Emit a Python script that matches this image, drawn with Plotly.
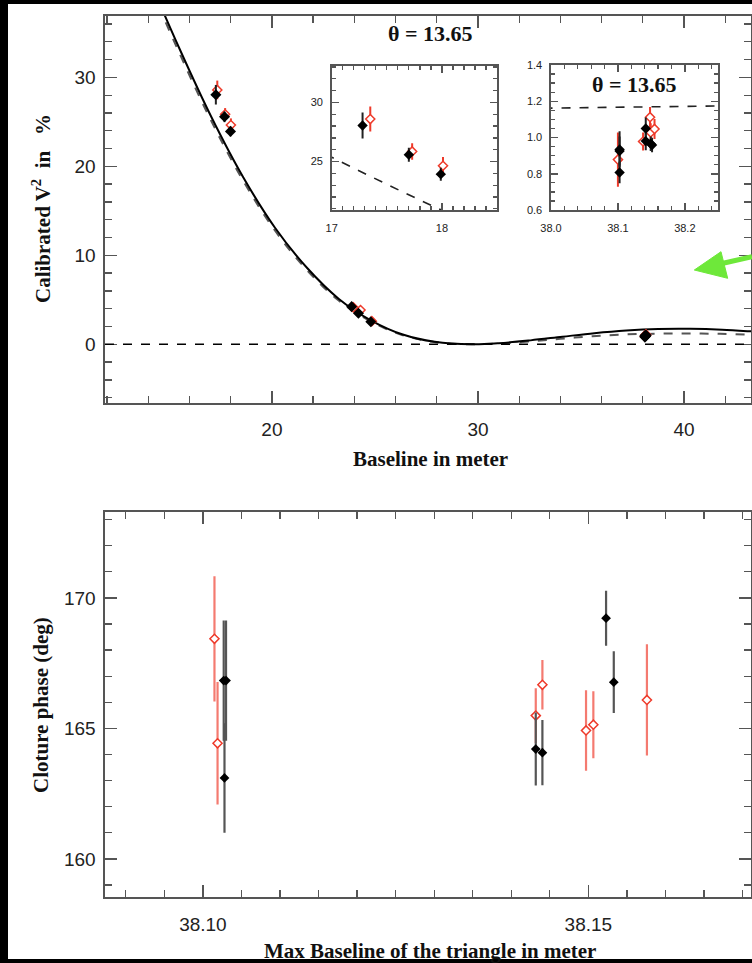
import plotly.graph_objects as go

W, H = 752, 963

# ---------------- data ----------------
# calibrated V^2 (percent) -- black filled diamonds
blk_B = [17.28, 17.70, 17.99, 23.87, 24.20, 24.80, 38.1025, 38.1025, 38.1025, 38.1416, 38.1416, 38.149, 38.151]
blk_V = [28.05, 25.57, 23.93, 4.23, 3.49, 2.54, 0.934, 0.925, 0.807, 1.05, 0.98, 0.966, 0.958]
blk_E = [1.1, 0.6, 0.55, 0.3, 0.3, 0.25, 0.10, 0.08, 0.06, 0.06, 0.05, 0.04, 0.04]
# red open diamonds
red_B = [17.35, 17.73, 18.01, 23.95, 24.30, 24.85, 38.100, 38.1376, 38.148, 38.149, 38.1547]
red_V = [28.59, 25.85, 24.64, 4.15, 3.85, 2.60, 0.878, 0.978, 1.112, 1.028, 1.047]
red_E = [1.05, 0.7, 0.75, 0.3, 0.3, 0.25, 0.15, 0.05, 0.056, 0.05, 0.055]

# model curves
sol_B = [13.9, 15.5, 17.05, 18.6, 20.15, 21.7, 23.25, 24.8, 26.35, 27.9, 29.7, 31.0, 32.55, 34.1, 35.65, 37.2, 38.75, 40.3, 41.85, 43.4, 44.0]
sol_V = [41.8, 33.3, 25.6, 18.8, 13.1, 8.6, 5.1, 2.7, 1.1, 0.28, 0.0, 0.11, 0.44, 0.85, 1.25, 1.55, 1.72, 1.74, 1.64, 1.43, 1.34]
dsh_B = [13.8, 15.4, 16.95, 18.5, 20.05, 21.6, 23.15, 24.7, 26.25, 27.8, 29.5, 30.9, 32.45, 34.0, 35.55, 37.1, 38.65, 40.2, 41.75, 43.3, 44.0]
dsh_V = [41.8, 33.3, 25.6, 18.8, 13.1, 8.6, 5.1, 2.7, 1.1, 0.28, 0.0, 0.08, 0.31, 0.62, 0.90, 1.10, 1.19, 1.22, 1.17, 1.06, 1.0]

# closure phase
cp_blk_B = [38.1027, 38.1030, 38.1028, 38.14318, 38.14404, 38.1523, 38.1533]
cp_blk_P = [166.83, 166.83, 163.10, 164.21, 164.07, 169.22, 166.77]
cp_blk_E = [2.3, 2.3, 2.1, 1.4, 1.25, 1.05, 1.18]
cp_red_B = [38.1015, 38.1019, 38.14318, 38.14404, 38.1497, 38.15065, 38.1576]
cp_red_P = [168.43, 164.43, 165.49, 166.67, 164.92, 165.14, 166.09]
cp_red_E = [2.4, 2.35, 1.05, 0.95, 1.54, 1.28, 2.13]

theta_label = "θ = 13.65"

# ---------------- helpers ----------------
def px(x):
    return x / W

def py(y):
    return 1 - y / H

SANS = "Liberation Sans"
SERIF = "Liberation Serif"
AX = "#555555"

fig = go.Figure()

RED = "#ee3a2a"
RED_L = "#f47a70"

def add_pts(B, V, E, xa, ya, filled, size, ecol, ethick):
    if filled:
        marker = dict(symbol="diamond", size=size, color="black", line=dict(width=0))
    else:
        marker = dict(symbol="diamond", size=size, color="white", line=dict(color=RED, width=1.5))
    fig.add_trace(go.Scatter(
        x=B, y=V, mode="markers", xaxis=xa, yaxis=ya, marker=marker,
        error_y=dict(type="data", array=E, visible=True, width=0, thickness=ethick, color=ecol),
        showlegend=False, cliponaxis=True, hoverinfo="skip"))

# main panel curves
fig.add_trace(go.Scatter(x=dsh_B, y=dsh_V, mode="lines", line=dict(color="#555", width=2, dash="dash", shape="spline"),
                         xaxis="x", yaxis="y", showlegend=False, hoverinfo="skip"))
fig.add_trace(go.Scatter(x=sol_B, y=sol_V, mode="lines", line=dict(color="black", width=2, shape="spline"),
                         xaxis="x", yaxis="y", showlegend=False, hoverinfo="skip"))
add_pts(red_B, red_V, red_E, "x", "y", False, 7, RED, 2)
add_pts(blk_B, blk_V, blk_E, "x", "y", True, 8.5, "#222", 2)

# inset 1
fig.add_trace(go.Scatter(x=dsh_B, y=dsh_V, mode="lines", line=dict(color="#222", width=1.6, dash="dash", shape="spline"),
                         xaxis="x2", yaxis="y2", showlegend=False, hoverinfo="skip"))
add_pts(red_B, red_V, red_E, "x2", "y2", False, 7, RED, 2)
add_pts(blk_B, blk_V, blk_E, "x2", "y2", True, 8, "#222", 2)

# inset 2
fig.add_trace(go.Scatter(x=dsh_B, y=dsh_V, mode="lines", line=dict(color="#222", width=1.6, dash="dash", shape="spline"),
                         xaxis="x3", yaxis="y3", showlegend=False, hoverinfo="skip"))
add_pts(red_B, red_V, red_E, "x3", "y3", False, 7, RED, 2)
add_pts(blk_B, blk_V, blk_E, "x3", "y3", True, 8, "#222", 2)

# bottom panel
add_pts(cp_red_B, cp_red_P, cp_red_E, "x4", "y4", False, 7, RED_L, 2.2)
add_pts(cp_blk_B, cp_blk_P, cp_blk_E, "x4", "y4", True, 7.5, "#555", 2.2)

def axis(domain, rng, dtick, minor_dtick, anchor, fsize=19, tl=12, mtl=7, fmt=None, tick0=None, standoff=8):
    d = dict(domain=domain, range=rng, dtick=dtick, anchor=anchor, automargin=False,
             showline=True, linecolor=AX, linewidth=1.6, mirror="ticks",
             ticks="inside", ticklen=tl, tickwidth=1.5, tickcolor=AX,
             minor=dict(ticks="inside", ticklen=mtl, tickwidth=1.3, tickcolor=AX, dtick=minor_dtick, showgrid=False),
             showgrid=False, zeroline=False, fixedrange=True,
             tickfont=dict(family=SANS, size=fsize, color="#222"),
             ticklabelstandoff=standoff)
    if fmt:
        d["tickformat"] = fmt
    if tick0 is not None:
        d["tick0"] = tick0
    return d

layout = dict(
    template="none",
    width=W, height=H, margin=dict(l=0, r=0, t=0, b=0, pad=0, autoexpand=False),
    paper_bgcolor="black", plot_bgcolor="white", showlegend=False,
    xaxis=axis([px(105), px(751)], [11.9, 43.25], 10, 2, "y", tick0=0, standoff=9),
    yaxis=axis([py(403), py(16)], [-6.6, 36.9], 10, 2, "x", tick0=0, standoff=4),
    xaxis2=axis([px(331.7), px(497)], [17, 18.5], 1, 0.1, "y2", fsize=11, tl=7, mtl=4, tick0=0, standoff=7),
    yaxis2=axis([py(210), py(65.7)], [20.9, 33.1], 5, 1, "x2", fsize=11, tl=7, mtl=4, tick0=0, standoff=5),
    xaxis3=axis([px(551), px(718.3)], [38.0, 38.25], 0.1, 0.02, "y3", fsize=11, tl=7, mtl=4, fmt=".1f", tick0=38.0, standoff=7),
    yaxis3=axis([py(210), py(65)], [0.6, 1.4], 0.2, 0.05, "x3", fsize=11, tl=7, mtl=4, fmt=".1f", tick0=0.6, standoff=5),
    xaxis4=axis([px(105), px(751)], [38.0873, 38.1711], 0.05, 0.005, "y4", fmt=".2f", tick0=38.0, standoff=9),
    yaxis4=axis([py(897.3), py(511.7)], [158.53, 173.3], 5, 1, "x4", tick0=0, standoff=4),
)
fig.update_layout(**layout)

# white page area inside the black scan border
fig.add_shape(type="rect", xref="paper", yref="paper", x0=px(8), x1=1, y0=py(959), y1=py(4),
              fillcolor="white", line=dict(width=0), layer="below")

# zero reference line in main panel
fig.add_shape(type="line", xref="x domain", yref="y", x0=0, x1=1, y0=0, y1=0,
              line=dict(color="black", width=1.6, dash="dash"))

# green arrow
G = "#6ee83a"
fig.add_shape(type="line", xref="paper", yref="paper", x0=px(722), y0=py(263.5), x1=px(752), y1=py(256.7),
              line=dict(color=G, width=5))
fig.add_shape(type="path", xref="paper", yref="paper",
              path=f"M {px(694.3)},{py(270)} L {px(721)},{py(251.7)} L {px(727.7)},{py(278.3)} Z",
              fillcolor=G, line=dict(color=G, width=1))

def ann(text, x, y, size=20, angle=0):
    fig.add_annotation(text=text, xref="paper", yref="paper", x=px(x), y=py(y),
                       xanchor="center", yanchor="middle", showarrow=False, textangle=angle,
                       font=dict(family=SERIF, size=size, color="#111"))

ann("<b>Calibrated V<sup>2</sup>  in   %</b>", 41, 209, 21, -90)
ann("<b>Baseline in meter</b>", 431, 459, 21)
ann("<b>Cloture phase (deg)</b>", 41, 705, 21, -90)
ann("<b>Max Baseline of the triangle in meter</b>", 430, 951, 21)
ann(f"<b>{theta_label}</b>", 431, 34, 22)
ann(f"<b>{theta_label}</b>", 634, 84, 22)

fig.write_html("out.html", config={"displayModeBar": False, "staticPlot": True},
               post_script="document.body.style.margin='0';document.body.style.padding='0';"
                           "document.body.style.overflow='hidden';document.body.style.background='black';")
